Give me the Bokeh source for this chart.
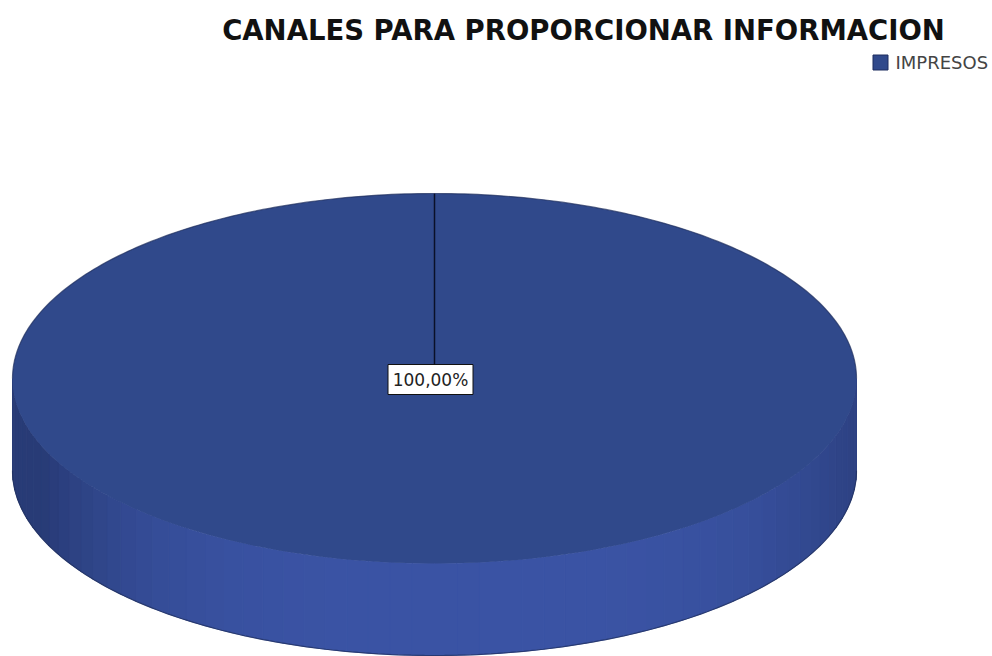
import numpy as np
from bokeh.plotting import figure
from bokeh.models import ColumnDataSource
from bokeh.core.properties import value
from bokeh.embed import file_html
from bokeh.resources import INLINE

title_text = "CANALES PARA PROPORCIONAR INFORMACION"
categories = ["IMPRESOS"]
shares = [100.0]
label_text = ["100,00%"]

CX, CY, RX, RY, DEPTH = 434, 378, 422, 185, 92
FONT = value("DejaVu Sans")

p = figure(width=992, height=656, x_range=(0, 992), y_range=(656, 0),
           output_backend="svg", toolbar_location=None, min_border=0)
p.axis.visible = False
p.grid.visible = False
p.outline_line_color = None

# side of the disc: vertical strips over the lower half of the ellipse
t = np.linspace(0, np.pi, 61)
xs, ys, cols = [], [], []
for a, b in zip(t[:-1], t[1:]):
    xa, xb = CX + RX * np.cos(a), CX + RX * np.cos(b)
    ya, yb = CY + RY * np.sin(a), CY + RY * np.sin(b)
    xs.append([xa, xb, xb, xa])
    ys.append([ya, yb, yb + DEPTH, ya + DEPTH])
    m = abs(((xa + xb) / 2 - (CX + 30)) / RX)
    f = min(m, 1) ** 4
    cols.append("#%02x%02x%02x" % (round(58 - 18 * f), round(83 - 24 * f), round(164 - 46 * f)))
p.patches(xs, ys, fill_color=cols, line_color=cols, line_width=1)

# lower edge
tt = np.linspace(0, np.pi, 200)
p.line(CX + RX * np.cos(tt), CY + DEPTH + RY * np.sin(tt), line_color="#1e2d5c", line_width=1.2, line_alpha=0.7)

# top face, one wedge per category
angles = 2 * np.pi * np.array(shares) / sum(shares)
start = -np.pi / 2
for ang in angles:
    th = np.linspace(start, start + ang, 240)
    p.patch(np.r_[CX, CX + RX * np.cos(th)], np.r_[CY, CY + RY * np.sin(th)],
            fill_color="#30498b", line_color=None)
    p.line([CX, CX + RX * np.cos(start)], [CY, CY + RY * np.sin(start)], line_color="#0a1028", line_width=1.5)
    start += ang

# dark rim on the back of the disc
tb = np.linspace(np.pi, 2 * np.pi, 200)
p.line(CX + RX * np.cos(tb), CY + RY * np.sin(tb), line_color="#1e2d5c", line_width=1.2, line_alpha=0.7)

# value label
src = ColumnDataSource(dict(x=[430], y=[379], text=label_text))
p.rect(x="x", y="y", source=src, width=85, height=30, fill_color="white", line_color="#111111", line_width=1)
p.text(x="x", y="y", text="text", source=src, text_align="center", text_baseline="middle",
       text_font=FONT, text_font_size="17px", text_color="#222222")

# title
p.text(x=[583], y=[29], text=[title_text], text_align="center", text_baseline="middle",
       text_font=FONT, text_font_style="bold", text_font_size="27.5px", text_color="#111111")

# legend
p.rect(x=[880], y=[62], width=15, height=15, fill_color="#30498b", line_color="#1d2d5e", line_width=1)
p.text(x=[895], y=[62], text=categories, text_align="left", text_baseline="middle",
       text_font=FONT, text_font_size="18px", text_color="#444444")

open("out.html", "w").write(file_html(p, INLINE))
